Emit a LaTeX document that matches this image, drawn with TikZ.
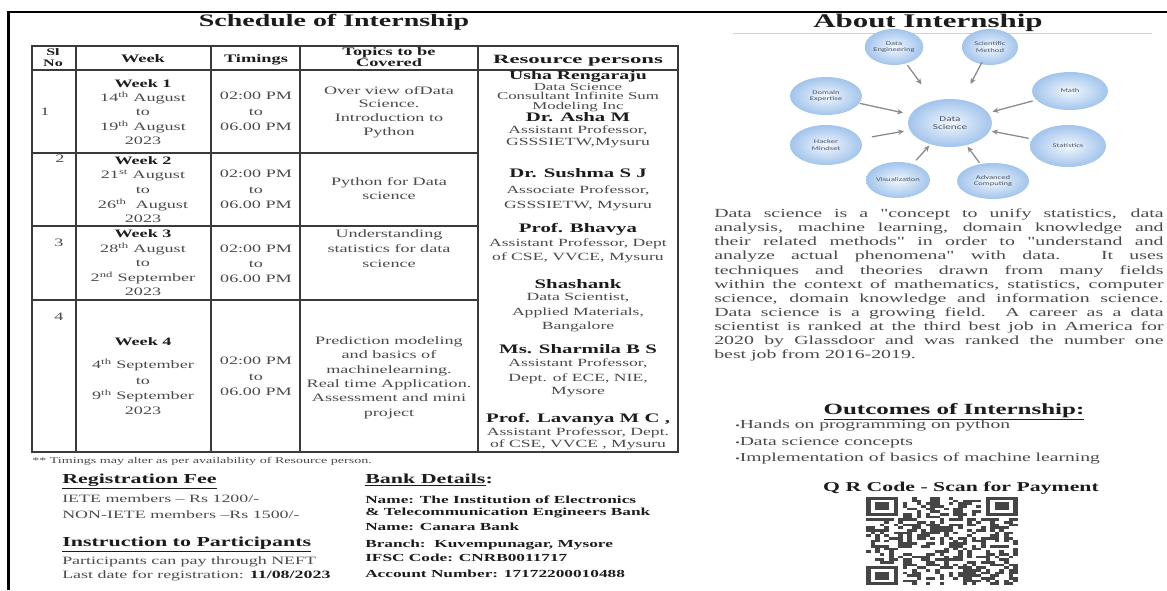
\documentclass[tikz,border=0pt]{standalone}
\usepackage{fontspec}
\setmainfont{Liberation Serif}[FakeStretch=1.6]
\newfontfamily\hdwide{Liberation Serif}[FakeStretch=1.8]
\newfontfamily\plainf{Liberation Serif}[FakeStretch=1.6, Ligatures=TeXOff]
\newfontfamily\lblfont{Carlito}[FakeStretch=1.5]
\usetikzlibrary{shapes.geometric,arrows.meta}
\definecolor{txt}{HTML}{4A4A4A}
\definecolor{boldc}{HTML}{1C1C1C}
\definecolor{rulec}{HTML}{3A3A3A}
\definecolor{blob}{HTML}{A2C4EC}
\definecolor{blobin}{HTML}{F2F7FD}
\definecolor{arrowc}{HTML}{8A8A8A}
\definecolor{lblc}{HTML}{4E5866}
\definecolor{qrc}{HTML}{454545}
\newcommand\fsz[2]{\fontsize{#1pt}{#2pt}\selectfont}
\newcommand\rpb{\fsz{9.75}{11}\bfseries\color{boldc}}
\newcommand\rps{\fsz{7.9}{9}}
\newcommand\wkb{\bfseries\color{boldc}}
\begin{document}
\begin{tikzpicture}[x=0.75pt,y=-0.75pt,
  tb/.style={inner sep=0pt, anchor=mid, text=txt, font=\fsz{8.5}{10}},
  hd/.style={inner sep=0pt, anchor=mid, text=boldc, font=\fsz{8.6}{10}\bfseries},
  rp/.style={inner sep=0pt, anchor=mid, text=txt, font=\fsz{8.25}{10}},
  lt/.style={inner sep=0pt, anchor=mid west, text=txt, font=\fsz{8.4}{10}},
  bk/.style={inner sep=0pt, anchor=mid west, text=boldc, font=\fsz{8.1}{10}\bfseries},
  sub/.style={inner sep=0pt, text=boldc, font=\fsz{10.3}{12}\bfseries},
  ttl/.style={inner sep=0pt, anchor=mid, text=boldc, font=\bfseries},
  grid/.style={draw=rulec, line width=1.1pt},
  blobn/.style={ellipse, shading=radial, inner color=blobin, outer color=blob, inner sep=0pt,
    text=lblc, align=center, font=\lblfont\fsz{4.3}{5}},
  arr/.style={draw=arrowc, line width=0.95pt, -{Stealth[length=4.5pt,width=4pt]}},
  qrbox/.style={fill=qrc}
]
\useasboundingbox (0,0) rectangle (1167,590);
\fill[white] (0,0) rectangle (1167,590);
% frame
\draw[line width=2.3pt, black] (8.5,11) -- (8.5,590);
\draw[line width=1.6pt, black] (7,12) -- (1167,12);

% ===== Schedule title
\node[ttl, font=\fsz{13.1}{15}\bfseries] (tsched) at (334,23) {Schedule of Internship};

% ===== table
\draw[grid] (32,46) rectangle (678,452);
\draw[grid] (32,70) -- (678,70);
\foreach \xx in {76,211,300,478} \draw[grid] (\xx,46) -- (\xx,452);
\foreach \yy in {153,226,300} \draw[grid] (32,\yy) -- (478,\yy);

% header
\node[hd, font=\fsz{7.5}{8}\bfseries] (hsl1) at (53,52) {Sl};
\node[hd, font=\fsz{7.5}{8}\bfseries] (hsl2) at (53,63) {No};
\node[hd] (hwk) at (143,59) {Week};
\node[hd] (htm) at (256,59) {Timings};
\node[hd] (htp1) at (389,52) {Topics to be};
\node[hd] (htp2) at (389,63) {Covered};
\node[hd, font=\hdwide\fsz{9.5}{10}\bfseries] (hrp) at (578,60) {Resource persons};

% Sl numbers
\node[tb] (sl1) at (45,112) {1};
\node[tb] (sl2) at (60,159) {2};
\node[tb] (sl3) at (59,243) {3};
\node[tb] (sl4) at (59,317) {4};

% week column
\foreach \yy/\txt [count=\k] in {
  84/{\wkb Week 1}, 98/{14\textsuperscript{th} August}, 112/{to}, 127/{19\textsuperscript{th} August}, 141/{2023},
  161/{\wkb Week 2}, 175/{21\textsuperscript{st} August}, 190/{to}, 205/{26\textsuperscript{th}\ \ August}, 219/{2023},
  234/{\wkb Week 3}, 249/{28\textsuperscript{th} August}, 263/{to}, 278/{2\textsuperscript{nd} September}, 292/{2023},
  342/{\wkb Week 4}, 365/{4\textsuperscript{th} September}, 381/{to}, 396/{9\textsuperscript{th} September}, 411/{2023}}
  \node[tb] (wk\k) at (143,\yy) {\txt};

% timings column
\foreach \yy/\txt [count=\k] in {
  96/{02:00 PM}, 112/{to}, 127/{06.00 PM},
  174/{02:00 PM}, 190/{to}, 205/{06.00 PM},
  249/{02:00 PM}, 264/{to}, 279/{06.00 PM},
  361/{02:00 PM}, 377/{to}, 392/{06.00 PM}}
  \node[tb] (tm\k) at (256,\yy) {\txt};

% topics column
\foreach \yy/\txt [count=\k] in {
  91/{Over view ofData}, 104/{Science.}, 118/{Introduction to}, 132/{Python},
  182/{Python for Data}, 196/{science},
  234/{Understanding}, 249/{statistics for data}, 264/{science},
  341/{Prediction modeling}, 355/{and basics of}, 370/{machinelearning.}, 384/{Real time Application.}, 398/{Assessment and mini}, 413/{project}}
  \node[tb] (tp\k) at (389,\yy) {\txt};

% resource persons column
\foreach \yy/\txt [count=\k] in {
  76/{\fsz{9.25}{11}\bfseries\color{boldc}Usha Rengaraju}, 87/{\rps Data Science}, 96.5/{\rps Consultant Infinite Sum}, 106/{\rps Modeling Inc},
  118/{\rpb Dr. Asha M}, 130/{Assistant Professor,}, 142.5/{GSSSIETW,Mysuru},
  174/{\rpb Dr. Sushma S J}, 190/{Associate Professor,}, 205/{GSSSIETW, Mysuru},
  229/{\rpb Prof. Bhavya}, 243/{Assistant Professor, Dept}, 257/{of CSE, VVCE, Mysuru},
  285/{\rpb Shashank}, 297/{Data Scientist,}, 312/{Applied Materials,}, 326/{Bangalore},
  350/{\rpb Ms. Sharmila B S}, 363/{Assistant Professor,}, 378/{Dept. of ECE, NIE,}, 391/{Mysore},
  419/{\rpb Prof. Lavanya M C ,}, 432/{Assistant Professor, Dept.}, 444/{of CSE, VVCE , Mysuru}}
  \node[rp] (rp\k) at (578,\yy) {\txt};

% footnote
\node[lt, font=\fsz{6.6}{8}] (foot) at (32,460) {** Timings may alter as per availability of Resource person.};

% registration / instructions
\node[sub, anchor=mid west] (regh) at (62,480) {\underline{Registration Fee}};
\node[lt] (reg1) at (62,499) {IETE members – Rs 1200/-};
\node[lt] (reg2) at (62,515) {NON-IETE members –Rs 1500/-};
\node[sub, anchor=mid west] (insh) at (62,543) {\underline{Instruction to Participants}};
\node[lt] (ins1) at (62,561) {Participants can pay through NEFT};
\node[lt] (ins2) at (62,575) {Last date for registration: {\bfseries\color{boldc}11/08/2023}};

% bank details
\node[sub, anchor=mid west] (bankh) at (365,480) {\underline{Bank Details}:};
\node[bk] (bk1) at (365,500) {Name: The Institution of Electronics};
\node[bk] (bk2) at (365,512) {\& Telecommunication Engineers Bank};
\node[bk] (bk3) at (365,527) {Name: Canara Bank};
\node[bk] (bk4) at (365,544) {Branch:\ \ Kuvempunagar, Mysore};
\node[bk] (bk5) at (365,558) {IFSC Code: CNRB0011717};
\node[bk] (bk6) at (365,574) {Account Number: 17172200010488};

% ===== About internship
\node[ttl, font=\fsz{14.5}{16}\bfseries] (tabout) at (928,24) {About Internship};
\draw[draw=black!18, line width=0.7pt] (733,33) -- (1152,33);

% diagram
\node[blobn, minimum width=63pt, minimum height=36pt, font=\lblfont\fsz{5.6}{6.5}] (nDS) at (950,123) {Data\\Science};
\node[blobn, minimum width=43.5pt, minimum height=27pt] (nDE) at (894,47) {Data\\Engineering};
\node[blobn, minimum width=42pt, minimum height=27pt] (nSM) at (990,47) {Scientific\\Method};
\node[blobn, minimum width=54pt, minimum height=28.5pt] (nDX) at (826,96) {Domain\\Expertise};
\node[blobn, minimum width=57pt, minimum height=28.5pt] (nMa) at (1070,91) {Math};
\node[blobn, minimum width=54pt, minimum height=30pt] (nHM) at (826,145) {Hacker\\Mindset};
\node[blobn, minimum width=57pt, minimum height=31.5pt] (nSt) at (1068,146) {Statistics};
\node[blobn, minimum width=48pt, minimum height=27pt] (nVi) at (898,180) {Visualization};
\node[blobn, minimum width=54pt, minimum height=27pt] (nAC) at (993,181) {Advanced\\Computing};

\draw[arr, shorten <=17pt, shorten >=36pt] (nDE.center) -- (nDS.center);
\draw[arr, shorten <=13pt, shorten >=33pt] (nSM.center) -- (nDS.center);
\draw[arr, shorten <=26pt, shorten >=36pt] (nDX.center) -- (nDS.center);
\draw[arr, shorten <=29pt, shorten >=33pt] (nMa.center) -- (nDS.center);
\draw[arr, shorten <=35pt, shorten >=35pt] (nHM.center) -- (nDS.center);
\draw[arr, shorten <=30pt, shorten >=32pt] (nSt.center) -- (nDS.center);
\draw[arr, shorten <=20pt, shorten >=23pt] (nVi.center) -- (nDS.center);
\draw[arr, shorten <=17pt, shorten >=22pt] (nAC.center) -- (nDS.center);

% paragraph
\node[inner sep=0pt, anchor=north west, text width=337pt, align=justify, text=txt, font=\plainf\fsz{9.3}{10.6}] (para) at (714,208.5)
 {\tolerance=10000\hyphenpenalty=10000 Data science is a "concept to unify statistics, data\linebreak
 analysis, machine learning, domain knowledge and\linebreak
 their related methods" in order to "understand and\linebreak
 analyze actual phenomena" with data. It uses\linebreak
 techniques and theories drawn from many fields\linebreak
 within the context of mathematics, statistics, computer\linebreak
 science, domain knowledge and information science.\linebreak
 Data science is a growing field. A career as a data\linebreak
 scientist is ranked at the third best job in America for\linebreak
 2020 by Glassdoor and was ranked the number one\linebreak
 best job from 2016-2019.};

% outcomes
\node[ttl, font=\fsz{11.7}{13}\bfseries] (outh) at (954,411) {\underline{Outcomes of Internship:}};
\node[lt, font=\fsz{9.2}{10}] (out1) at (735,425) {{\fsz{6}{6}•}Hands on programming on python};
\node[lt, font=\fsz{9.2}{10}] (out2) at (735,442) {{\fsz{6}{6}•}Data science concepts};
\node[lt, font=\fsz{9.2}{10}] (out3) at (735,458) {{\fsz{6}{6}•}Implementation of basics of machine learning};

% QR
\node[ttl, font=\fsz{10.2}{12}\bfseries] (qrh) at (961,488) {Q R Code - Scan for Payment};
\pgfmathsetseed{11}
\foreach \i in {0,...,32}{
  \foreach \j in {0,...,32}{
    \pgfmathtruncatemacro{\qin}{((\i<8)&&(\j<8))||((\i>24)&&(\j<8))||((\i<8)&&(\j>24))}
    \pgfmathtruncatemacro{\qon}{rnd<0.45}
    \ifnum\qin=0 \ifnum\qon=1
      \fill[qrbox] ({866+\i*4.6},{497+\j*2.67}) rectangle ++(4.65,2.7);
    \fi\fi
  }
}
\foreach \fx/\fy in {0/0,26/0,0/26}{
  \fill[qrbox] ({866+\fx*4.6},{497+\fy*2.67}) rectangle ++(32.2,18.69);
  \fill[white] ({866+(\fx+1)*4.6},{497+(\fy+1)*2.67}) rectangle ++(23,13.35);
  \fill[qrbox] ({866+(\fx+2)*4.6},{497+(\fy+2)*2.67}) rectangle ++(13.8,8.01);
}
\end{tikzpicture}
\end{document}
